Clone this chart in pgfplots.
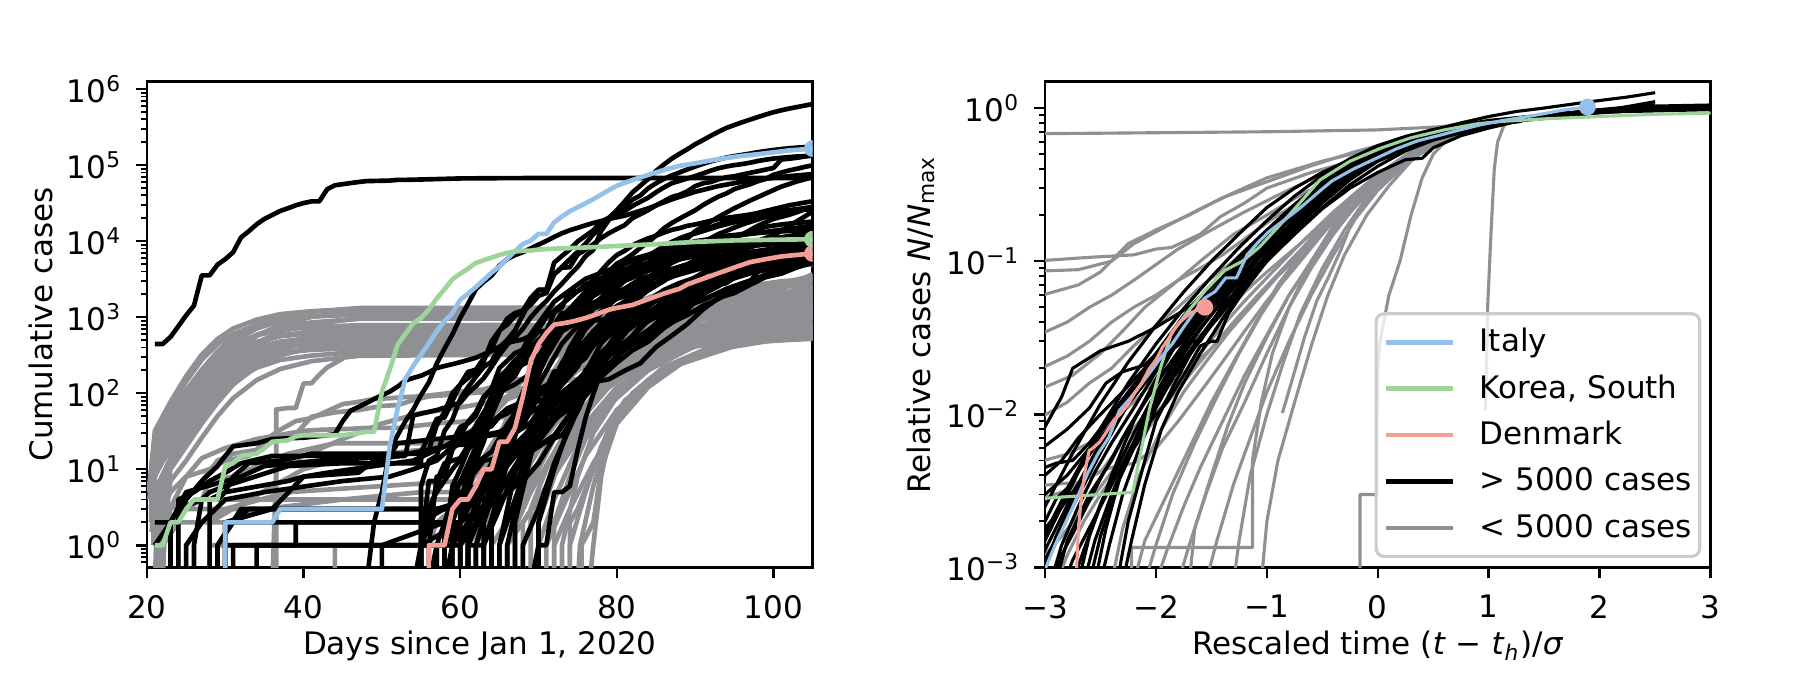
\documentclass[border=0pt]{standalone}
\usepackage{fontspec}
\setmainfont{DejaVu Sans}
\usepackage{pgfplots}
\pgfplotsset{compat=1.18}
\definecolor{lgray}{HTML}{8F9094}
\definecolor{itblue}{HTML}{94C1EA}
\definecolor{krgreen}{HTML}{9CD49A}
\definecolor{dkred}{HTML}{F59E98}
\pgfplotsset{
 gl/.style={lgray, line width=1.16pt, line join=round, forget plot},
 bl/.style={black, line width=1.16pt, line join=round, forget plot},
 gr/.style={lgray, line width=0.78pt, line join=round, forget plot},
 br/.style={black, line width=0.78pt, line join=round, forget plot},
}
\begin{document}
\fontsize{7.75pt}{9.3pt}\selectfont
\begin{tikzpicture}
\useasboundingbox (0,0) rectangle (450.25pt,172pt);
%================ LEFT ================
\begin{axis}[ymode=log,
 scale only axis, width=166.4pt, height=121.5pt, anchor=south west,
 tick align=outside, xtick pos=bottom, ytick pos=left,
 major tick length=2.72pt, minor tick length=1.55pt,
 tick style={black}, major tick style={line width=0.62pt}, minor tick style={line width=0.47pt},
 axis line style={line width=0.62pt},
 xticklabel style={inner sep=0pt, anchor=north, yshift=-4pt},
 yticklabel style={inner sep=0pt, anchor=east, xshift=-3.3pt},
 clip marker paths=true,
 at={(36.75pt,30.125pt)},
 xmin=20, xmax=105, ymin=0.51, ymax=1.26e6,
 xtick={20,40,60,80,100}, xticklabels={20,40,60,80,100},
 ytick={1,10,100,1000,10000,100000,1000000},
 yticklabels={10\textsuperscript{0},10\textsuperscript{1},10\textsuperscript{2},10\textsuperscript{3},10\textsuperscript{4},10\textsuperscript{5},10\textsuperscript{6}},
 minor ytick={0.6,0.7,0.8,0.9,2,3,4,5,6,7,8,9,20,30,40,50,60,70,80,90,200,300,400,500,600,700,800,900,2000,3000,4000,5000,6000,7000,8000,9000,20000,30000,40000,50000,60000,70000,80000,90000,200000,300000,400000,500000,600000,700000,800000,900000},
 xlabel={Days since Jan 1, 2020}, ylabel={Cumulative cases},
 xlabel style={at={(axis description cs:0.5,-0.1796)}, anchor=base},
 ylabel style={at={(axis description cs:-0.1427,0.5)}, anchor=base},
]
% gray band (provinces)
\addplot[gl] coordinates {(20.3,6) (21,27) (23,54) (25,109) (27,204) (29,354) (31,544) (34,816) (37,1034) (41,1183) (47,1319) (105,1360)};
\addplot[gl] coordinates {(20.5,9) (21,32) (23,77) (25,168) (27,323) (29,516) (31,710) (34,929) (37,1097) (41,1200) (47,1264) (105,1290)};
\addplot[gl] coordinates {(20.6,1.5) (21,10) (23,25) (25,50) (27,101) (29,189) (31,328) (34,567) (37,794) (41,1008) (47,1184) (105,1260)};
\addplot[gl] coordinates {(20.2,5) (21,24) (23,47) (25,94) (27,177) (29,307) (31,472) (34,708) (37,897) (41,1027) (47,1145) (105,1180)};
\addplot[gl] coordinates {(20.4,7) (21,28) (23,66) (25,143) (27,275) (29,440) (31,605) (34,792) (37,935) (41,1023) (47,1078) (105,1100)};
\addplot[gl] coordinates {(20.8,1) (21,8) (23,20) (25,41) (27,82) (29,153) (31,265) (34,459) (37,643) (41,816) (47,959) (105,1020)};
\addplot[gl] coordinates {(20.3,4) (21,20) (23,39) (25,78) (27,147) (29,255) (31,392) (34,588) (37,745) (41,853) (47,951) (105,980)};
\addplot[gl] coordinates {(20.5,5) (21,20) (23,48) (25,104) (27,200) (29,320) (31,440) (34,576) (37,680) (41,744) (47,784) (105,800)};
\addplot[gl] coordinates {(20.6,3) (21,15) (23,30) (25,60) (27,113) (29,195) (31,300) (34,450) (37,570) (41,653) (47,728) (105,750)};
\addplot[gl] coordinates {(21,0.3) (21.3,3) (23,14) (25,28) (27,56) (29,105) (31,182) (34,315) (37,441) (41,560) (47,658) (105,700)};
\addplot[gl] coordinates {(20.4,4) (21,17) (23,40) (25,86) (27,165) (29,264) (31,363) (34,475) (37,561) (41,614) (47,647) (105,660)};
\addplot[gl] coordinates {(20.6,2.5) (21,12) (23,25) (25,50) (27,93) (29,161) (31,248) (34,372) (37,471) (41,539) (47,601) (105,620)};
\addplot[gl] coordinates {(21.2,0.3) (21.5,2) (23,12) (25,24) (27,47) (29,89) (31,153) (34,266) (37,372) (41,472) (47,555) (105,590)};
\addplot[gl] coordinates {(20.5,3) (21,14) (23,34) (25,73) (27,140) (29,224) (31,308) (34,403) (37,476) (41,521) (47,549) (105,560)};
\addplot[gl] coordinates {(20.7,2) (21,11) (23,21) (25,42) (27,80) (29,138) (31,212) (34,318) (37,403) (41,461) (47,514) (105,530)};
\addplot[gl] coordinates {(21.5,0.3) (22,2) (23,10) (25,20) (27,40) (29,75) (31,130) (34,225) (37,315) (41,400) (47,470) (75,500) (90,520) (105,540)};
\addplot[gl] coordinates {(20.5,2.5) (21,12) (23,28) (25,61) (27,118) (29,188) (31,259) (34,338) (37,400) (41,437) (47,461) (75,470) (88,500) (105,560)};
\addplot[gl] coordinates {(20.8,1.5) (21,9) (23,18) (25,35) (27,66) (29,114) (31,176) (34,264) (37,334) (41,383) (47,427) (75,440) (88,480) (98,540) (105,580)};
\addplot[gl] coordinates {(20.5,2) (21,10) (23,24) (25,52) (27,100) (29,160) (31,220) (34,288) (37,340) (41,372) (47,392) (76,400) (86,450) (96,560) (105,620)};
\addplot[gl] coordinates {(21.2,1) (21.6,7) (23,14) (25,29) (27,54) (29,94) (31,144) (34,216) (37,274) (41,313) (47,349) (76,360) (86,420) (96,520) (105,580)};
\addplot[gl] coordinates {(22,0.3) (22.3,2) (23,7) (25,13) (27,26) (29,50) (31,86) (34,149) (37,208) (41,264) (47,310) (77,330) (88,400) (98,480) (105,520)};
% other gray
\addplot[gl] coordinates {(22,0.3) (22,1) (23,2) (25,3) (27,4) (50,4) (60,4) (63,8) (66,30) (70,100) (75,300) (82,700) (92,1300) (105,1800)};
\addplot[gl] coordinates {(23,0.3) (23,2) (25,3) (45,3) (58,3) (62,6) (65,20) (69,60) (74,200) (80,500) (90,1000) (105,1600)};
\addplot[gl] coordinates {(22,0.3) (22,2) (24,5) (25,8) (28,10) (30,13) (33,15) (35,21) (37,25) (39,29) (41,49) (44,56) (47,60) (50,68) (52,70) (54,81) (56,91) (58,94) (60,100) (62,101) (64,105) (66,108) (68,115) (70,126) (72,137) (74,148) (76,162) (78,208) (80,273) (82,356) (84,410) (86,518) (88,641) (90,715) (92,802) (94,862) (96,915) (98,960) (100,989) (102,1004) (105,1017)};
\addplot[gl] coordinates {(21,0.3) (22,1) (23,3) (25,4) (27,7) (29,13) (31,16) (34,18) (35,24) (37,33) (39,43) (41,47) (43,58) (45,72) (47,77) (49,84) (51,86) (53,89) (55,91) (57,96) (59,102) (61,108) (63,112) (65,130) (67,150) (69,160) (71,178) (73,212) (75,243) (77,313) (79,385) (81,455) (83,558) (85,683) (87,802) (89,879) (91,1000) (93,1114) (95,1309) (97,1481) (99,1910) (101,2299) (103,2918) (105,3699)};
\addplot[gl] coordinates {(21,2) (22,3) (23,5) (25,8) (27,14) (30,19) (34,25) (40,32) (42,33) (46,34) (48,35) (52,35) (58,41) (60,42) (64,47) (67,50) (69,53) (71,70) (72,75) (73,82) (74,114) (75,147) (76,177) (77,212) (78,272) (79,322) (80,411) (81,599) (82,721) (83,827) (84,934) (85,1045) (86,1136) (87,1245) (88,1388) (89,1524) (90,1651) (91,1771) (93,1978) (95,2169) (97,2258) (99,2423) (101,2518) (103,2579) (105,2643)};
\addplot[gl] coordinates {(24,0.3) (24,3) (27,4) (28,7) (31,8) (35,12) (38,16) (44,22) (58,22) (60,25) (62,36) (64,50) (66,83) (68,99) (70,149) (72,197) (74,428) (76,673) (78,900) (80,1183) (82,1518) (84,1796) (86,2161) (88,2626) (90,2908) (92,3333) (94,3662) (96,3963) (98,4228) (100,4530) (102,4683) (105,4987)};
\addplot[gl] coordinates {(36.5,0.3) (36.5,61) (38,64) (39,64) (40,135) (41,135) (42,175) (43,218) (45,285) (46,355) (47,454) (48,542) (49,621) (50,634) (52,691) (55,705) (70,706) (105,712)};
\addplot[gl] coordinates {(28,0.3) (28,1) (56,1) (57,2) (59,3) (61,6) (63,12) (65,15) (67,30) (69,40) (71,59) (73,155) (75,244) (77,319) (79,450) (81,626) (83,880) (85,1041) (87,1240) (89,1418) (91,1615) (93,1927) (95,2176) (97,2487) (99,2769) (101,2974) (103,3064) (105,3161)};
\addplot[gl] coordinates {(44,0.3) (44,1) (58,1) (59,2) (61,2) (62,3) (64,15) (66,48) (68,55) (70,67) (72,80) (74,110) (76,196) (78,256) (80,294) (82,366) (84,456) (86,536) (88,609) (90,710) (92,865) (94,985) (96,1173) (98,1450) (100,1699) (102,1939) (105,2350)};
\addplot[gl] coordinates {(25,0.3) (25,1) (27,2) (30,3) (38,5) (50,6) (60,7) (63,10) (66,25) (70,70) (75,200) (80,400) (90,900) (105,1500)};
\addplot[gl] coordinates {(28,0.3) (28,2) (33,4) (40,10) (45,14) (55,18) (60,25) (64,50) (68,150) (72,300) (80,700) (92,1500) (105,2200)};
\addplot[gl] coordinates {(36,0.3) (36.5,10) (40,15) (45,25) (50,40) (55,55) (60,65) (65,80) (70,150) (75,300) (85,800) (105,1800)};
\addplot[gl] coordinates {(22,0.3) (22,1) (24,2) (30,2) (35,3) (45,4) (55,5) (60,5) (62,10) (65,30) (68,80) (72,200) (80,500) (105,1100)};
% gray lower-right bundle
\addplot[gl] coordinates {(76.5,0.3) (77,1) (78,8) (79,25) (81,70) (84,150) (88,260) (93,380) (99,480) (105,540)};
\addplot[gl] coordinates {(75,0.3) (75.3,1) (77,6) (79,30) (82,100) (86,220) (92,400) (99,560) (105,650)};
\addplot[gl] coordinates {(73,0.3) (73,1) (75,8) (77,30) (80,90) (85,250) (92,500) (105,900)};
\addplot[gl] coordinates {(72,0.3) (72,2) (74,8) (76,25) (79,70) (84,200) (90,420) (97,700) (105,1000)};
\addplot[gl] coordinates {(70,0.3) (70,1) (72,4) (75,20) (78,60) (83,200) (90,500) (105,1200)};
\addplot[gl] coordinates {(69,0.3) (69,3) (71,10) (74,40) (78,120) (84,350) (92,800) (105,1700)};
\addplot[gl] coordinates {(68,0.3) (68,1) (71,6) (75,30) (80,120) (88,450) (97,900) (105,1300)};
\addplot[gl] coordinates {(67,0.3) (67,2) (70,10) (73,40) (77,130) (83,400) (92,1100) (105,2000)};
\addplot[gl] coordinates {(66,0.3) (66,1) (69,5) (73,25) (78,100) (85,350) (95,900) (105,1400)};
\addplot[gl] coordinates {(65,0.3) (65,1) (68,8) (72,40) (77,200) (84,700) (95,1800) (105,3000)};
\addplot[gl] coordinates {(64,0.3) (64,1) (67,3) (71,20) (76,90) (83,400) (94,1300) (105,2400)};
\addplot[gl] coordinates {(63,0.3) (63,2) (66,6) (70,30) (75,150) (82,600) (93,1800) (105,3500)};
\addplot[gl] coordinates {(62,0.3) (62,1) (65,4) (69,15) (74,70) (81,300) (92,1200) (105,2600)};
\addplot[gl] coordinates {(61,0.3) (61,1) (64,3) (68,12) (73,60) (80,350) (92,1500) (105,3200)};
\addplot[gl] coordinates {(60,0.3) (60,1) (63,3) (67,10) (72,50) (79,250) (90,1000) (105,2000)};
\addplot[gl] coordinates {(58,0.3) (58,1) (62,2) (66,8) (70,30) (76,150) (86,700) (105,2500)};
\addplot[gl] coordinates {(71,0.3) (71,1) (73,3) (76,15) (80,60) (86,220) (95,550) (105,800)};
\addplot[gl] coordinates {(74,0.3) (74,1) (76,5) (78,20) (81,80) (86,200) (94,420) (105,620)};
\addplot[gl] coordinates {(66,0.3) (66,1) (68,2) (71,6) (75,40) (80,160) (90,600) (105,1500)};
\addplot[gl] coordinates {(57,0.3) (57,1) (60,1) (63,2) (67,6) (71,30) (77,130) (85,450) (105,1700)};
\addplot[gl] coordinates {(68,0.3) (68,2) (70,4) (73,12) (76,35) (79,90) (83,220) (89,450) (97,750) (105,950)};
\addplot[gl] coordinates {(70,0.3) (70,2) (72,8) (74,25) (77,80) (81,220) (87,500) (95,900) (105,1200)};
\addplot[gl] coordinates {(72,0.3) (72,1) (74,3) (77,12) (80,40) (84,120) (89,280) (96,520) (105,720)};
\addplot[gl] coordinates {(64,0.3) (64,2) (66,5) (69,20) (73,80) (78,300) (85,800) (95,1700) (105,2300)};
\addplot[gl] coordinates {(74,0.3) (74,2) (75,3) (77,10) (79,35) (82,90) (87,230) (94,480) (105,760)};
\addplot[gl] coordinates {(75.5,0.3) (75.5,1) (77,2) (78,10) (80,40) (83,110) (88,240) (96,450) (105,600)};
% black lines
\addplot[bl] coordinates {(21,444) (22,444) (23,549) (24,761) (25,1058) (26,1423) (27,3554) (28,3554) (29,4903) (30,5806) (31,7153) (32,11177) (33,13522) (34,16678) (35,19665) (36,22112) (37,24953) (38,27100) (39,29631) (40,31728) (41,33366) (42,33366) (43,48206) (44,54406) (45,56249) (46,58182) (47,59989) (48,61682) (49,62031) (51,62662) (52,64084) (53,64084) (55,64786) (57,65596) (60,66907) (65,67466) (70,67773) (75,67798) (105,67803)};
\addplot[bl] coordinates {(21,1) (23,2) (25,5) (30,7) (32,8) (35,11) (42,13) (53,15) (54,51) (57,60) (60,75) (61,100) (62,124) (63,158) (64,221) (65,319) (66,435) (67,541) (68,704) (69,994) (70,1301) (71,1630) (72,2183) (73,2770) (74,3613) (75,4596) (76,6344) (77,7678) (78,13700) (79,19100) (80,25500) (81,33200) (82,43800) (83,53700) (84,65700) (85,83800) (86,101700) (87,121500) (88,140900) (89,161800) (90,188200) (91,213600) (92,243500) (93,275600) (94,308900) (95,337000) (96,366600) (97,397000) (98,429000) (99,462800) (100,496500) (101,526400) (102,555300) (103,580600) (104,607700) (105,636350)};
\addplot[bl] coordinates {(31,0.3) (31,1) (39,1) (39,2) (55,2) (55,6) (56,13) (57,15) (58,32) (59,45) (60,84) (61,120) (62,165) (63,222) (64,259) (65,400) (66,500) (67,673) (68,1073) (69,1695) (70,2277) (71,2277) (72,5232) (73,6391) (74,7798) (75,9942) (76,11748) (77,13910) (78,17963) (79,20410) (80,25374) (81,28768) (82,35136) (83,39885) (84,49515) (85,57786) (86,65719) (87,73235) (88,80110) (89,87956) (90,95923) (91,104118) (92,112065) (93,119199) (94,126168) (95,131646) (96,136675) (97,141942) (98,148220) (99,153222) (100,158273) (101,163027) (102,166831) (103,170099) (104,172541) (105,177644)};
\addplot[bl] coordinates {(26,0.3) (26,1) (27,4) (29,4) (30,5) (31,8) (33,12) (37,13) (41,16) (55,16) (55,17) (56,27) (57,46) (58,48) (59,79) (60,130) (61,159) (62,196) (63,262) (64,482) (65,670) (66,799) (67,1040) (68,1176) (69,1457) (70,1908) (71,2078) (72,3675) (73,4585) (74,5795) (75,7272) (76,9257) (77,12327) (78,15320) (79,19848) (80,22213) (81,24873) (82,29056) (83,32986) (84,37323) (85,43938) (86,50871) (87,57695) (88,62095) (89,66885) (90,71808) (91,77872) (92,84794) (93,91159) (94,96092) (95,100123) (96,103374) (97,107663) (98,113296) (99,118181) (100,122171) (101,124908) (102,127854) (103,130072) (104,131359) (105,134753)};
\addplot[bl] coordinates {(23,0.3) (23,2) (24,3) (27,4) (28,5) (30,6) (38,11) (45,12) (55,12) (55,14) (56,18) (57,38) (58,57) (59,100) (60,130) (61,191) (62,204) (63,288) (64,380) (65,656) (66,957) (67,1136) (68,1219) (69,1794) (70,2293) (71,2293) (72,3681) (73,4496) (74,4532) (75,6683) (76,7715) (77,9124) (78,10970) (79,12758) (80,14463) (81,16243) (82,20123) (83,22622) (84,25600) (85,29551) (86,33402) (87,38105) (88,40708) (89,45170) (90,52827) (91,57749) (92,59929) (93,65202) (94,69500) (95,71412) (96,75343) (97,79163) (98,83057) (99,87366) (100,91738) (101,118783) (102,121712) (103,124869) (104,130253) (105,133470)};
\addplot[bl] coordinates {(30,0.3) (30,2) (36,3) (40,8) (43,9) (54,13) (58,20) (59,23) (60,36) (61,40) (62,51) (63,85) (64,115) (65,163) (66,206) (67,273) (68,321) (69,382) (70,456) (71,456) (72,798) (73,1140) (74,1140) (75,1543) (76,1950) (77,2626) (78,2689) (79,3983) (80,5067) (81,5745) (82,6726) (83,8164) (84,9640) (85,11812) (86,14745) (87,17312) (88,19780) (89,22453) (90,25481) (91,29865) (92,34173) (93,38689) (94,42477) (95,48436) (96,52279) (97,55949) (98,61474) (99,65872) (100,74605) (101,79874) (102,85206) (103,89570) (104,94845) (105,99483)};
\addplot[bl] coordinates {(48,0.3) (49,2) (50,5) (51,18) (52,28) (53,43) (54,61) (55,95) (56,139) (57,245) (58,388) (59,593) (60,978) (61,1501) (62,2336) (63,2922) (64,3513) (65,4747) (66,5823) (67,6566) (68,7161) (69,8042) (70,9000) (71,10075) (72,11364) (73,12729) (74,13938) (75,14991) (76,16169) (77,17361) (78,18407) (79,19644) (81,21638) (84,27017) (87,35408) (90,44605) (93,53183) (96,60500) (99,66220) (102,71686) (105,76389)};
\addplot[bl] coordinates {(69,0.3) (70,1) (71,1) (72,5) (73,5) (74,6) (75,18) (76,47) (77,98) (78,192) (79,359) (80,670) (81,1236) (82,1529) (83,1872) (84,2433) (85,3629) (86,5698) (87,7402) (88,9217) (89,10827) (90,13531) (91,15679) (93,20921) (95,27069) (97,34109) (99,42282) (101,52167) (103,61049) (105,69392)};
\addplot[bl] coordinates {(34,0.3) (34,1) (59,1) (60,2) (61,8) (62,13) (63,23) (64,50) (65,109) (66,169) (67,200) (68,239) (69,267) (70,314) (71,314) (72,559) (73,689) (74,886) (75,1058) (76,1243) (77,1486) (78,1795) (79,2257) (80,2815) (81,3401) (82,3743) (83,4269) (84,4937) (85,6235) (86,7284) (87,9134) (88,10836) (89,11899) (90,12775) (93,16770) (96,20814) (99,24983) (102,29647) (105,33573)};
\addplot[bl] coordinates {(56,0.3) (57,1) (58,1) (59,6) (60,10) (61,18) (62,24) (63,38) (64,82) (65,128) (66,188) (67,265) (68,321) (69,382) (70,503) (71,503) (72,804) (73,959) (74,1135) (75,1413) (76,1705) (77,2051) (78,2460) (79,2994) (80,3631) (81,4204) (82,4749) (83,5560) (84,6412) (85,7431) (86,8603) (87,9762) (88,10866) (89,11750) (90,12595) (93,15723) (96,18803) (99,21903) (102,25587) (105,28153)};
\addplot[bl] coordinates {(54,0.3) (55,1) (56,1) (57,8) (58,8) (59,18) (60,27) (61,42) (62,56) (63,90) (64,114) (65,214) (66,268) (67,337) (68,374) (69,491) (70,652) (71,652) (72,1139) (73,1359) (74,2200) (75,2200) (76,2700) (77,3028) (78,4075) (79,5294) (80,6575) (81,7474) (82,8795) (83,9877) (84,10897) (85,11811) (86,12928) (87,14076) (88,14829) (89,15922) (90,16605) (93,19606) (96,21657) (99,24051) (102,25449) (105,26336)};
\addplot[bl] coordinates {(25,0.3) (25,1) (27,2) (30,4) (35,5) (45,7) (51,8) (54,10) (57,13) (59,20) (61,27) (62,30) (64,37) (65,49) (66,54) (67,64) (68,77) (69,79) (70,108) (71,117) (72,193) (73,198) (74,252) (75,415) (76,478) (77,657) (78,800) (79,943) (80,1277) (81,1469) (82,2088) (83,2790) (84,3251) (85,4042) (86,4682) (87,5576) (88,6280) (89,7398) (90,8527) (93,12437) (96,16563) (99,20765) (102,24383) (105,28209)};
\addplot[bl] coordinates {(21,2) (24,2) (25,4) (27,7) (29,11) (30,15) (31,20) (34,22) (36,25) (40,26) (43,28) (44,29) (45,43) (46,59) (47,66) (48,74) (49,84) (50,94) (51,105) (52,122) (53,147) (54,159) (55,170) (56,189) (57,214) (58,228) (59,241) (60,256) (62,293) (64,360) (66,461) (68,511) (70,639) (72,701) (74,839) (76,878) (78,924) (80,1007) (82,1086) (84,1193) (86,1387) (88,1693) (90,1866) (92,2495) (94,3139) (96,3654) (98,4257) (100,5530) (102,6748) (104,7645) (105,8100)};
\addplot[bl] coordinates {(55,0.3) (55,2) (57,5) (59,10) (61,18) (63,41) (65,104) (67,131) (69,182) (71,302) (73,655) (75,860) (77,1332) (79,2013) (81,3244) (83,4474) (85,5588) (87,7029) (89,8788) (91,10180) (94,11781) (97,12640) (100,13244) (105,14226)};
\addplot[bl] coordinates {(55,0.3) (55,1) (60,2) (64,4) (66,13) (68,25) (70,52) (72,98) (74,200) (76,291) (78,621) (80,1021) (82,1593) (84,2247) (86,2985) (88,4256) (90,5717) (92,7910) (94,10278) (96,12240) (98,15927) (100,19638) (102,22192) (105,28320)};
\addplot[bl] coordinates {(61,0.3) (61,2) (63,5) (65,13) (67,30) (69,41) (71,78) (73,169) (75,331) (77,642) (79,1020) (81,1600) (83,2362) (85,3544) (87,5170) (89,6408) (91,8251) (93,10524) (95,11730) (97,13141) (99,15472) (101,16585) (103,17448) (105,18091)};
\addplot[bl] coordinates {(30,0.3) (30,1) (55,1) (56,7) (57,7) (58,12) (60,14) (62,30) (64,94) (66,161) (68,248) (70,500) (72,814) (74,1022) (76,1190) (78,1423) (80,1746) (82,2046) (84,2526) (86,3069) (88,3700) (90,4435) (92,5568) (94,6830) (96,7693) (98,8941) (100,9685) (102,10483) (105,11445)};
\addplot[bl] coordinates {(50,0.3) (50,1) (58,2) (60,7) (62,12) (64,17) (66,39) (68,75) (70,100) (72,143) (74,200) (76,324) (78,529) (80,883) (82,1442) (84,2369) (86,3035) (88,4247) (90,5358) (92,6857) (94,7851) (96,8904) (98,9755) (100,10408) (102,11145) (105,12046)};
\addplot[bl] coordinates {(55,0.3) (55,1) (57,6) (59,19) (61,25) (63,56) (65,108) (67,169) (69,400) (71,629) (73,996) (75,1256) (77,1550) (79,1914) (81,2383) (83,2866) (85,3369) (87,3845) (89,4284) (91,4641) (93,5208) (95,5687) (97,6086) (99,6228) (102,6525) (105,6740)};
\addplot[bl] coordinates {(30,0.3) (30,2) (60,2) (61,3) (64,10) (66,17) (68,20) (70,28) (72,45) (74,63) (76,114) (78,199) (80,306) (82,438) (84,658) (86,1036) (88,1534) (90,2337) (92,3548) (94,5389) (96,7497) (98,10131) (100,11917) (102,15770) (105,24490)};
\addplot[bl] coordinates {(58,0.3) (59,1) (61,2) (63,6) (65,18) (67,21) (69,34) (71,70) (73,129) (75,223) (77,557) (79,683) (81,906) (83,1329) (85,1819) (87,2415) (89,2910) (91,3849) (93,4604) (95,5111) (97,6074) (99,7054) (101,8928) (103,10647) (105,12547)};
\addplot[bl] coordinates {(29,0.3) (29,1) (32,3) (60,3) (61,5) (63,28) (65,31) (67,39) (69,56) (71,73) (73,82) (75,114) (77,151) (79,223) (81,396) (83,536) (85,694) (87,887) (89,1251) (91,1998) (93,2567) (95,3588) (97,4778) (99,5916) (101,7600) (103,9152) (105,12322)};
\addplot[bl] coordinates {(65,0.3) (65,1) (67,9) (69,22) (71,38) (73,71) (75,117) (77,234) (79,318) (81,395) (83,480) (85,635) (87,852) (89,1065) (91,1414) (93,1746) (95,2281) (97,2954) (99,5256) (101,6848) (103,9784) (105,11475)};
\addplot[bl] coordinates {(59,0.3) (59,6) (61,7) (63,13) (65,14) (67,15) (69,17) (71,23) (73,28) (75,58) (77,168) (79,426) (81,981) (83,1211) (85,1627) (87,1823) (89,2240) (91,3163) (93,3368) (95,3747) (97,4450) (99,4965) (101,7161) (103,7529) (105,8225)};
\addplot[bl] coordinates {(63,0.3) (63,1) (65,5) (67,11) (69,22) (71,49) (73,103) (75,150) (77,238) (79,425) (81,634) (83,901) (85,1221) (87,1638) (89,2055) (91,2554) (93,3383) (95,4102) (97,4848) (99,5575) (101,6356) (103,6934) (105,7582)};
\addplot[bl] coordinates {(61,0.3) (61,1) (64,5) (66,11) (68,20) (70,45) (72,86) (74,103) (76,171) (78,274) (80,392) (82,562) (84,900) (86,1104) (88,1299) (90,1563) (92,1885) (94,2370) (96,2795) (98,3287) (100,4033) (102,4462) (104,5369) (105,5862)};
\addplot[bl] coordinates {(55,0.3) (55,1) (57,3) (61,4) (63,6) (65,9) (67,15) (69,25) (71,49) (73,89) (75,139) (77,246) (79,308) (81,433) (83,762) (85,1029) (87,1452) (89,1952) (91,2460) (93,3183) (95,3864) (97,4417) (99,5202) (101,5990) (103,6300) (105,6879)};
\addplot[bl] coordinates {(60,0.3) (60,3) (62,5) (64,12) (66,32) (68,38) (70,91) (72,141) (74,253) (76,383) (78,694) (80,1047) (82,1236) (84,1654) (86,2279) (88,2817) (90,3308) (92,4190) (94,4587) (96,4822) (98,5312) (100,5732) (102,5991) (105,6301)};
\addplot[bl] coordinates {(24,0.3) (24,4) (26,5) (28,7) (30,9) (32,12) (36,15) (51,15) (52,22) (60,27) (62,33) (64,41) (66,63) (68,77) (70,112) (71,127) (72,156) (73,200) (74,250) (75,377) (76,453) (77,568) (78,681) (79,791) (80,1071) (81,1549) (82,1682) (83,2044) (84,2364) (85,2810) (86,3143) (87,3640) (88,3984) (89,4361) (90,4559) (92,5136) (94,5687) (96,5908) (98,6052) (100,6203) (102,6313) (105,6447)};
\addplot[bl] coordinates {(29,0.3) (29,1) (31,2) (33,3) (60,3) (65,5) (67,10) (69,33) (71,52) (73,64) (75,140) (77,202) (79,230) (81,380) (83,552) (85,707) (87,1075) (89,1546) (91,2311) (93,3018) (95,3246) (97,3764) (99,4195) (101,4428) (103,4932) (105,5453)};
\addplot[bl] coordinates {(55,0.3) (55,2) (60,4) (64,6) (66,16) (68,19) (70,20) (72,28) (74,53) (76,187) (78,454) (80,730) (82,887) (84,1057) (86,1408) (88,1597) (90,2039) (92,2450) (94,2818) (96,3864) (98,4263) (100,4788) (102,5374) (104,5837) (105,6383)};
\addplot[bl] coordinates {(58,0.3) (58,2) (60,5) (64,7) (68,7) (70,12) (72,26) (74,53) (76,93) (78,164) (80,251) (82,367) (84,475) (86,717) (88,993) (90,1215) (92,1510) (94,2143) (96,2785) (98,3181) (100,3844) (102,4661) (104,5399) (105,5847)};
\addplot[bl] coordinates {(62,0.3) (62,1) (64,4) (66,7) (68,13) (70,23) (72,43) (74,75) (76,201) (78,342) (80,537) (82,746) (84,1142) (86,1610) (88,2139) (90,2738) (92,3404) (94,4471) (96,5116) (98,5546) (100,6501) (102,7213) (104,7917) (105,8273)};
\addplot[bl] coordinates {(61,0.3) (61,2) (65,4) (67,6) (69,19) (71,34) (73,69) (75,117) (77,172) (79,309) (81,450) (83,579) (85,790) (87,1046) (89,1414) (91,1677) (93,2092) (95,2491) (97,2956) (99,3512) (101,4241) (103,4557) (105,5136)};
\addplot[bl] coordinates {(28,0.3) (28,4) (30,5) (38,7) (40,8) (47,9) (49,13) (57,19) (59,21) (61,21) (63,27) (65,29) (67,45) (69,74) (71,85) (73,98) (75,113) (77,140) (79,153) (81,198) (83,248) (85,405) (87,570) (89,814) (91,1264) (93,1799) (95,2076) (97,2659) (99,3360) (101,3736) (103,4521) (105,5365)};
\addplot[bl] coordinates {(57,0.3) (57,1) (59,4) (62,20) (65,90) (68,350) (71,1000) (75,2200) (80,4000) (88,6500) (96,8500) (105,10000)};
\addplot[bl] coordinates {(59,0.3) (59,2) (61,8) (63,30) (66,150) (69,600) (72,1600) (76,3200) (82,5500) (90,8000) (105,12000)};
\addplot[bl] coordinates {(62,0.3) (62,1) (64,5) (67,40) (70,250) (73,900) (77,2400) (82,4600) (90,7500) (105,11000)};
\addplot[bl] coordinates {(64,0.3) (64,2) (66,12) (68,60) (71,300) (74,1000) (78,2500) (84,5000) (93,8000) (105,10500)};
\addplot[bl] coordinates {(66,0.3) (66,1) (68,8) (70,40) (73,200) (76,700) (80,1800) (86,3800) (95,6500) (105,8500)};
\addplot[bl] coordinates {(60,0.3) (60,1) (62,3) (65,15) (68,80) (71,400) (74,1200) (78,2800) (84,5200) (94,8800) (105,13000)};
\addplot[bl] coordinates {(67,0.3) (67,2) (69,15) (71,80) (74,400) (77,1300) (81,3000) (87,5500) (96,8500) (105,10500)};
\addplot[bl] coordinates {(58,0.3) (58,1) (61,3) (64,10) (67,45) (70,200) (73,700) (77,1900) (83,4200) (92,7600) (105,11500)};
\addplot[bl] coordinates {(63,0.3) (63,3) (65,15) (67,60) (70,300) (73,1000) (77,2800) (82,5800) (90,10000) (105,16000)};
\addplot[bl] coordinates {(65,0.3) (65,1) (67,4) (70,30) (73,150) (76,500) (80,1400) (86,3200) (95,5800) (105,7500)};
\addplot[bl] coordinates {(68,0.3) (68,1) (70,3) (72,12) (75,60) (78,250) (82,800) (88,2200) (96,4500) (105,6500)};
\addplot[bl] coordinates {(70,0.3) (70,2) (72,10) (74,40) (77,200) (80,600) (85,1700) (93,3800) (105,6000)};
\addplot[bl] coordinates {(56,0.3) (56,1) (60,1) (62,2) (64,6) (67,30) (70,130) (73,450) (77,1300) (83,3200) (92,6200) (105,9000)};
\addplot[bl] coordinates {(61,0.3) (61,1) (63,1) (65,3) (67,10) (70,60) (73,250) (76,800) (81,2200) (88,4500) (97,7200) (105,9500)};
% colored
\addplot[itblue, line width=1.16pt, line join=round, forget plot] coordinates {(30,0.3) (30,2) (36,2) (37,3) (50,3) (51,20) (52,62) (53,155) (54,229) (55,322) (56,453) (57,655) (58,888) (59,1128) (60,1694) (61,2036) (62,2502) (63,3089) (64,3858) (65,4636) (66,5883) (67,7375) (68,9172) (69,10149) (70,12462) (71,12462) (72,17660) (73,21157) (74,24747) (75,27980) (76,31506) (77,35713) (78,41035) (79,47021) (80,53578) (82,63927) (84,74386) (86,86498) (88,97689) (90,105792) (92,115242) (94,124632) (96,132547) (98,139422) (100,147577) (102,156363) (105,165155)};
\addplot[krgreen, line width=1.16pt, line join=round, forget plot] coordinates {(21,1) (22,1) (23,2) (24,2) (25,3) (26,4) (29,4) (30,11) (31,12) (32,15) (34,16) (35,19) (36,23) (38,24) (39,27) (40,28) (45,28) (46,29) (48,31) (49,31) (50,104) (51,204) (52,433) (53,602) (54,833) (55,977) (56,1261) (57,1766) (58,2337) (59,3150) (60,3736) (61,4335) (62,5186) (63,5621) (64,6088) (65,6593) (66,7041) (67,7313) (68,7478) (69,7513) (70,7755) (71,7869) (72,7979) (75,8162) (80,8652) (85,9137) (90,9786) (95,10237) (100,10450) (105,10613)};
\addplot[dkred, line width=1.16pt, line join=round, forget plot] coordinates {(56,0.3) (56,1) (58,1) (59,3) (60,4) (61,4) (62,6) (63,10) (64,10) (65,23) (66,23) (67,35) (68,90) (69,262) (70,442) (71,615) (72,801) (73,827) (74,864) (75,914) (76,977) (77,1057) (78,1151) (79,1255) (80,1326) (82,1450) (84,1724) (86,2046) (88,2366) (89,2700) (91,3200) (93,3800) (95,4500) (97,5300) (99,5800) (101,6300) (103,6600) (105,6900)};
\addplot[only marks, mark=*, mark size=1.9pt, color=itblue, forget plot] coordinates {(105,165155)};
\addplot[only marks, mark=*, mark size=1.9pt, color=krgreen, forget plot] coordinates {(105,10613)};
\addplot[only marks, mark=*, mark size=1.9pt, color=dkred, forget plot] coordinates {(105,6900)};
\end{axis}
%================ RIGHT ================
\begin{axis}[ymode=log,
 scale only axis, width=166.4pt, height=121.5pt, anchor=south west,
 tick align=outside, xtick pos=bottom, ytick pos=left,
 major tick length=2.72pt, minor tick length=1.55pt,
 tick style={black}, major tick style={line width=0.62pt}, minor tick style={line width=0.47pt},
 axis line style={line width=0.62pt},
 xticklabel style={inner sep=0pt, anchor=north, yshift=-4pt},
 yticklabel style={inner sep=0pt, anchor=east, xshift=-3.3pt},
 clip marker paths=true,
 at={(261.25pt,30.125pt)},
 xmin=-3, xmax=3, ymin=0.001, ymax=1.49,
 xtick={-3,-2,-1,0,1,2,3}, xticklabels={−3,−2,−1,0,1,2,3},
 ytick={0.001,0.01,0.1,1},
 yticklabels={10\textsuperscript{−3},10\textsuperscript{−2},10\textsuperscript{−1},10\textsuperscript{0}},
 minor ytick={0.002,0.003,0.004,0.005,0.006,0.007,0.008,0.009,0.02,0.03,0.04,0.05,0.06,0.07,0.08,0.09,0.2,0.3,0.4,0.5,0.6,0.7,0.8,0.9},
 xlabel={Rescaled time (\textit{t} − \textit{t}\textsubscript{\textit{h}})/\textit{σ}},
 ylabel={Relative cases \textit{N}/\textit{N}\textsubscript{max}},
 xlabel style={at={(axis description cs:0.5,-0.1796)}, anchor=base},
 ylabel style={at={(axis description cs:-0.1725,0.5)}, anchor=base},
 legend cell align=left,
 legend style={at={(axis description cs:0.4951,0.5253)}, anchor=north west, draw=black!20, line width=0.78pt, rounded corners=2pt, fill=white, fill opacity=0.8, draw opacity=1, text opacity=1, inner xsep=2pt, inner ysep=3.6pt, row sep=4.55pt, column sep=6pt, nodes={inner sep=0pt}},
 legend image code/.code={\draw[#1, line width=1.16pt] (0pt,0pt) -- (16.75pt,0pt);},
]
% gray
\addplot[gr] coordinates {(-3.1,0.68) (-2.5,0.685) (-2,0.69) (-1,0.7) (0,0.72) (0.5,0.75) (1,0.8) (1.5,0.85)};
\addplot[gr] coordinates {(-3.1,0.1) (-2.6,0.106) (-2.2,0.11) (-2,0.12) (-1.86,0.123) (-1.6,0.15) (-1.42,0.195) (-1.2,0.24) (-1,0.3) (-0.6,0.38) (-0.1,0.48) (0.3,0.6) (0.77,0.74) (1.1,0.82)};
\addplot[gr] coordinates {(-3.1,0.086) (-2.7,0.088) (-2.4,0.1) (-2.2,0.13) (-1.9,0.17) (-1.6,0.22) (-1.3,0.28) (-1,0.35) (-0.5,0.45) (0,0.55) (0.4,0.66) (0.8,0.76) (1.1,0.82)};
\addplot[gr] coordinates {(-3.1,0.058) (-2.7,0.07) (-2.5,0.085) (-2.25,0.13) (-2,0.16) (-1.7,0.2) (-1.4,0.26) (-1,0.33) (-0.6,0.42) (-0.2,0.52) (0.2,0.62) (0.6,0.73) (1,0.8) (1.5,0.88) (2,0.94) (2.5,0.98) (3.1,1.0)};
\addplot[gr] coordinates {(-3.1,0.032) (-2.8,0.04) (-2.6,0.05) (-2.4,0.06) (-2.2,0.075) (-2,0.095) (-1.8,0.12) (-1.5,0.16) (-1.2,0.21) (-0.9,0.27) (-0.5,0.37) (0,0.5) (0.4,0.63) (0.8,0.75)};
\addplot[gr] coordinates {(-3.1,0.019) (-2.8,0.024) (-2.6,0.03) (-2.4,0.04) (-2.2,0.05) (-2,0.06) (-1.8,0.075) (-1.6,0.09) (-1.4,0.11) (-1.2,0.14) (-0.9,0.2) (-0.6,0.27) (-0.3,0.36) (0,0.46) (0.4,0.6) (0.8,0.73)};
\addplot[gr] coordinates {(-3.1,0.014) (-2.75,0.018) (-2.5,0.025) (-2.3,0.035) (-2.1,0.05) (-1.85,0.07) (-1.6,0.1) (-1.3,0.15) (-1,0.2) (-0.7,0.27) (-0.4,0.35) (0,0.48) (0.5,0.65) (0.9,0.77)};
\addplot[gr] coordinates {(-3.1,0.009) (-2.8,0.012) (-2.6,0.016) (-2.4,0.02) (-2.2,0.028) (-2,0.038) (-1.8,0.05) (-1.6,0.068) (-1.3,0.1) (-1,0.15) (-0.7,0.22) (-0.4,0.31) (0,0.45) (0.5,0.63) (1,0.78)};
\addplot[gr] coordinates {(-3.1,0.0048) (-2.8,0.0055) (-2.6,0.0065) (-2.4,0.009) (-2.2,0.012) (-2,0.017) (-1.8,0.024) (-1.6,0.033) (-1.4,0.045) (-1.2,0.063) (-1,0.085) (-0.7,0.13) (-0.4,0.2) (-0.1,0.3) (0.2,0.42) (0.5,0.56) (0.8,0.7) (1.1,0.8)};
\addplot[gr] coordinates {(-3.1,0.0027) (-2.8,0.0032) (-2.6,0.004) (-2.4,0.0045) (-2.2,0.0048) (-2,0.006) (-1.8,0.009) (-1.6,0.014) (-1.4,0.022) (-1.2,0.035) (-1,0.055) (-0.75,0.09) (-0.5,0.15) (-0.25,0.24) (0,0.35) (0.3,0.5) (0.6,0.66) (0.9,0.78)};
\addplot[gr] coordinates {(-3.1,0.0034) (-2.7,0.0036) (-2.5,0.0042) (-2.3,0.0065) (-2.1,0.01) (-1.9,0.015) (-1.7,0.02) (-1.5,0.027) (-1.3,0.038) (-1.1,0.055) (-0.9,0.08) (-0.6,0.13) (-0.3,0.22) (0,0.34) (0.3,0.5) (0.6,0.67) (0.9,0.78)};
\addplot[gr] coordinates {(-2.25,0.0004) (-2.2,0.0008) (-2.1,0.0015) (-1.9,0.003) (-1.7,0.006) (-1.5,0.012) (-1.3,0.022) (-1.1,0.04) (-0.9,0.07) (-0.7,0.11) (-0.5,0.17) (-0.25,0.26) (0,0.37) (0.3,0.52) (0.6,0.68) (0.9,0.78)};
\addplot[gr] coordinates {(-2.05,0.0004) (-2.0,0.0008) (-1.9,0.0013) (-1.75,0.0025) (-1.6,0.0045) (-1.4,0.009) (-1.2,0.018) (-1,0.033) (-0.8,0.06) (-0.6,0.1) (-0.4,0.16) (-0.2,0.24) (0,0.33) (0.3,0.48) (0.6,0.64) (0.9,0.77) (1.1,0.82) (1.5,0.9) (2.2,0.97) (2.5,0.99)};
\addplot[gr] coordinates {(-1.85,0.0004) (-1.8,0.0008) (-1.7,0.0014) (-1.55,0.003) (-1.4,0.006) (-1.2,0.012) (-1,0.025) (-0.8,0.05) (-0.6,0.09) (-0.4,0.15) (-0.2,0.23) (0,0.32) (0.25,0.45) (0.5,0.6) (0.8,0.74) (1.1,0.81)};
\addplot[gr] coordinates {(-1.6,0.0004) (-1.55,0.0008) (-1.45,0.0015) (-1.3,0.0035) (-1.15,0.007) (-1,0.014) (-0.8,0.03) (-0.6,0.06) (-0.4,0.11) (-0.2,0.19) (0,0.29) (0.25,0.43) (0.5,0.6) (0.75,0.72) (1,0.8)};
\addplot[gr] coordinates {(-0.86,0.0102) (-0.76,0.018) (-0.66,0.032) (-0.55,0.055) (-0.44,0.08) (-0.33,0.12) (-0.22,0.19) (-0.1,0.25) (0,0.31) (0.22,0.42) (0.45,0.55) (0.66,0.65) (0.9,0.75) (1.1,0.8)};
\addplot[gr] coordinates {(-0.16,0.0005) (-0.16,0.003) (-0.01,0.003) (-0.01,0.007) (0.0,0.02) (0.02,0.03) (0.1,0.06) (0.2,0.1) (0.3,0.2) (0.4,0.35) (0.5,0.5) (0.65,0.65) (0.8,0.75) (1.0,0.8)};
\addplot[gr] coordinates {(0.97,0.0107) (0.98,0.02) (0.99,0.05) (1.02,0.15) (1.05,0.4) (1.08,0.6) (1.14,0.78) (1.3,0.85) (1.6,0.9) (2.0,0.95) (2.5,0.98) (3.1,1.0)};
\addplot[gr] coordinates {(-2.22,0.0005) (-2.22,0.00135) (-1.13,0.00135) (-1.13,0.005) (-1.05,0.012) (-0.95,0.025) (-0.8,0.05) (-0.6,0.1) (-0.4,0.17) (-0.2,0.26) (0,0.36) (0.3,0.52) (0.6,0.68) (0.9,0.78)};
\addplot[gr] coordinates {(-1.35,0.0004) (-1.3,0.0008) (-1.25,0.0015) (-1.15,0.004) (-1.0,0.01) (-0.85,0.022) (-0.7,0.045) (-0.5,0.09) (-0.3,0.16) (-0.1,0.26) (0.1,0.36) (0.35,0.5) (0.6,0.65) (0.85,0.76) (1.1,0.81)};
\addplot[gr] coordinates {(-1.1,0.0004) (-1.05,0.0008) (-1.0,0.002) (-0.9,0.005) (-0.75,0.012) (-0.6,0.028) (-0.45,0.06) (-0.3,0.11) (-0.1,0.2) (0.1,0.31) (0.3,0.45) (0.5,0.6) (0.75,0.72) (1.0,0.8)};
\addplot[gr] coordinates {(-2.15,0.0004) (-2.1,0.0008) (-2.0,0.0014) (-1.85,0.003) (-1.65,0.0065) (-1.45,0.013) (-1.25,0.025) (-1.05,0.045) (-0.85,0.075) (-0.6,0.13) (-0.35,0.21) (-0.1,0.31) (0.2,0.45) (0.5,0.61) (0.8,0.74) (1.05,0.8)};
\addplot[gr] coordinates {(-2.45,0.0004) (-2.4,0.0008) (-2.3,0.0018) (-2.15,0.004) (-1.95,0.008) (-1.75,0.014) (-1.55,0.022) (-1.35,0.034) (-1.1,0.055) (-0.85,0.09) (-0.6,0.14) (-0.3,0.23) (0,0.36) (0.35,0.53) (0.7,0.7) (1,0.79)};
\addplot[gr] coordinates {(-1.75,0.0004) (-1.7,0.0008) (-1.65,0.0018) (-1.5,0.004) (-1.35,0.0085) (-1.2,0.016) (-1.0,0.032) (-0.8,0.06) (-0.55,0.11) (-0.3,0.19) (-0.05,0.3) (0.2,0.43) (0.5,0.6) (0.8,0.74) (1.05,0.8)};
\addplot[gr] coordinates {(-3.1,0.001) (-2.85,0.0016) (-2.7,0.0022) (-2.55,0.003) (-2.4,0.0042) (-2.2,0.0065) (-2.0,0.01) (-1.8,0.016) (-1.6,0.025) (-1.4,0.038) (-1.2,0.055) (-0.95,0.085) (-0.7,0.13) (-0.4,0.21) (-0.1,0.32) (0.25,0.48) (0.6,0.65) (0.9,0.77)};
\addplot[gr] coordinates {(-2.95,0.0004) (-2.9,0.0008) (-2.8,0.0012) (-2.65,0.002) (-2.5,0.003) (-2.3,0.0048) (-2.1,0.0075) (-1.9,0.012) (-1.7,0.018) (-1.5,0.027) (-1.3,0.04) (-1.1,0.058) (-0.85,0.09) (-0.6,0.14) (-0.3,0.23) (0,0.35) (0.35,0.52) (0.7,0.69) (1,0.79)};
% black
\addplot[br] coordinates {(-3.1,0.0075) (-3,0.0083) (-2.85,0.013) (-2.75,0.02) (-2.5,0.026) (-2.25,0.03) (-2,0.037) (-1.83,0.044) (-1.67,0.052) (-1.5,0.07) (-1.25,0.1) (-1,0.15) (-0.5,0.3) (0,0.5) (0.5,0.68) (1,0.8) (1.5,0.87) (1.9,0.92)};
\addplot[br] coordinates {(-3.1,0.0055) (-3,0.0062) (-2.8,0.008) (-2.6,0.011) (-2.45,0.016) (-2.3,0.019) (-2.1,0.021) (-1.95,0.027) (-1.8,0.035) (-1.6,0.05) (-1.4,0.07) (-1.2,0.1) (-0.9,0.16) (-0.5,0.3) (0,0.5) (0.5,0.7) (1,0.8) (1.6,0.9)};
\addplot[br] coordinates {(-3.1,0.0018) (-3,0.0025) (-2.75,0.0056) (-2.5,0.0117) (-2.25,0.0219) (-2,0.038) (-1.75,0.063) (-1.5,0.1) (-1.25,0.151) (-1,0.224) (-0.75,0.3) (-0.5,0.38) (-0.25,0.46) (0,0.55) (0.5,0.7) (1,0.82) (1.5,0.9) (2,0.97) (2.5,1.03) (3.1,1.05)};
\addplot[br] coordinates {(-3.1,0.0012) (-3,0.00166) (-2.75,0.0038) (-2.5,0.0081) (-2.25,0.016) (-2,0.0288) (-1.75,0.049) (-1.5,0.079) (-1.25,0.123) (-1,0.184) (-0.75,0.266) (-0.5,0.363) (-0.25,0.468) (0,0.569) (0.25,0.653) (0.5,0.724) (1,0.83) (1.5,0.9) (2,0.97) (2.5,1.0) (3.1,1.0)};
\addplot[br] coordinates {(-3.1,0.0007) (-3,0.00112) (-2.75,0.0025) (-2.5,0.0056) (-2.25,0.0117) (-2,0.0219) (-1.75,0.038) (-1.5,0.063) (-1.25,0.1) (-1,0.151) (-0.75,0.224) (-0.5,0.316) (-0.25,0.417) (0,0.525) (0.25,0.617) (0.5,0.692) (0.75,0.759) (1,0.813) (1.5,0.891) (2,0.977) (2.5,1.05)};
\addplot[br] coordinates {(-2.95,0.0006) (-2.875,0.00112) (-2.75,0.00166) (-2.5,0.0038) (-2.25,0.0081) (-2,0.016) (-1.75,0.0288) (-1.5,0.049) (-1.25,0.079) (-1,0.123) (-0.75,0.184) (-0.5,0.266) (-0.25,0.363) (0,0.468) (0.25,0.569) (0.5,0.653) (0.75,0.724) (1,0.785) (1.25,0.83) (1.6,0.88)};
\addplot[br] coordinates {(-2.85,0.0005) (-2.8,0.0009) (-2.75,0.00112) (-2.5,0.0025) (-2.25,0.0056) (-2,0.0117) (-1.75,0.0219) (-1.5,0.038) (-1.25,0.063) (-1,0.1) (-0.75,0.151) (-0.5,0.224) (-0.25,0.316) (0,0.417) (0.25,0.525) (0.5,0.617) (0.75,0.69) (1,0.76) (1.25,0.82) (1.5,0.86)};
\addplot[br] coordinates {(-3.1,0.0009) (-3,0.0013) (-2.75,0.003) (-2.5,0.0065) (-2.25,0.013) (-2,0.025) (-1.75,0.044) (-1.5,0.07) (-1.25,0.108) (-1,0.16) (-0.75,0.235) (-0.5,0.33) (-0.25,0.43) (0,0.53) (0.5,0.7) (1,0.82) (1.5,0.9) (2.2,0.99)};
\addplot[br] coordinates {(-2.95,0.0004) (-2.9,0.0008) (-2.8,0.0015) (-2.6,0.003) (-2.4,0.005) (-2.3,0.007) (-2.1,0.012) (-1.9,0.02) (-1.7,0.03) (-1.6,0.03) (-1.45,0.045) (-1.3,0.07) (-1.1,0.1) (-0.9,0.14) (-0.6,0.22) (-0.3,0.33) (0,0.46) (0.3,0.57) (0.6,0.67) (1.0,0.78) (1.3,0.83)};
\addplot[br] coordinates {(-2.4,0.0003) (-2.35,0.0008) (-2.25,0.002) (-2.1,0.005) (-2.0,0.009) (-1.85,0.015) (-1.7,0.024) (-1.5,0.04) (-1.25,0.068) (-1,0.11) (-0.75,0.17) (-0.5,0.26) (-0.25,0.36) (0,0.47) (0.5,0.65) (1,0.79) (1.4,0.86)};
\addplot[br] coordinates {(-2.6,0.0003) (-2.55,0.0008) (-2.45,0.0018) (-2.3,0.0045) (-2.15,0.008) (-2,0.013) (-1.8,0.022) (-1.6,0.036) (-1.4,0.055) (-1.2,0.08) (-1,0.12) (-0.7,0.2) (-0.4,0.31) (-0.1,0.44) (0.2,0.57) (0.6,0.7) (1,0.8) (1.5,0.88) (2,0.95) (2.5,1.1)};
\addplot[br] coordinates {(-2.75,0.0003) (-2.7,0.0008) (-2.6,0.0016) (-2.4,0.004) (-2.2,0.009) (-2,0.017) (-1.8,0.03) (-1.5,0.055) (-1.25,0.09) (-1,0.14) (-0.75,0.21) (-0.5,0.3) (-0.25,0.41) (0,0.52) (0.25,0.62) (0.5,0.72) (0.75,0.8) (1,0.88) (1.25,0.95) (1.5,1.0) (1.75,1.06) (2,1.12) (2.25,1.18) (2.5,1.26)};
\addplot[br] coordinates {(-3.1,0.0035) (-3,0.004) (-2.85,0.005) (-2.7,0.007) (-2.5,0.01) (-2.3,0.014) (-2.1,0.02) (-1.9,0.03) (-1.7,0.045) (-1.5,0.068) (-1.3,0.095) (-1.1,0.13) (-0.9,0.17) (-0.6,0.26) (-0.3,0.37) (0,0.5) (0.3,0.62) (0.6,0.72) (1,0.82) (1.5,0.9) (2,0.96) (2.7,1.02)};
\addplot[br] coordinates {(-3.1,0.0015) (-3,0.0018) (-2.9,0.0022) (-2.7,0.0035) (-2.5,0.0065) (-2.3,0.011) (-2.1,0.018) (-1.9,0.028) (-1.7,0.043) (-1.5,0.062) (-1.25,0.095) (-1,0.145) (-0.75,0.215) (-0.5,0.31) (-0.25,0.41) (0,0.515) (0.5,0.69) (1,0.81) (1.5,0.89) (2,0.96) (3.1,1.02)};
\addplot[br] coordinates {(-3.0,0.0004) (-2.95,0.0008) (-2.85,0.0014) (-2.7,0.0025) (-2.55,0.0042) (-2.4,0.0065) (-2.2,0.011) (-2,0.019) (-1.75,0.034) (-1.5,0.058) (-1.25,0.092) (-1,0.14) (-0.75,0.21) (-0.5,0.3) (-0.25,0.4) (0,0.5) (0.5,0.68) (1,0.8) (1.3,0.85)};
\addplot[br] coordinates {(-2.7,0.0003) (-2.65,0.0008) (-2.55,0.0015) (-2.4,0.003) (-2.2,0.0065) (-2,0.012) (-1.75,0.023) (-1.5,0.04) (-1.25,0.065) (-1,0.1) (-0.75,0.15) (-0.5,0.22) (-0.25,0.3) (0,0.38) (0.25,0.46) (0.4,0.47) (0.5,0.55) (0.75,0.66) (1,0.74) (1.2,0.8)};
\addplot[br] coordinates {(-3.1,0.0026) (-3,0.003) (-2.8,0.004) (-2.6,0.006) (-2.45,0.0085) (-2.3,0.012) (-2.15,0.016) (-2,0.022) (-1.8,0.033) (-1.6,0.048) (-1.4,0.068) (-1.2,0.095) (-1,0.135) (-0.75,0.2) (-0.5,0.29) (-0.25,0.39) (0,0.5) (0.5,0.68) (1,0.8) (1.5,0.88) (2.1,0.95)};
\addplot[br] coordinates {(-3.1,0.001) (-3,0.0015) (-2.85,0.0025) (-2.7,0.0042) (-2.55,0.0068) (-2.4,0.01) (-2.25,0.014) (-2.1,0.019) (-1.9,0.025) (-1.75,0.03) (-1.6,0.042) (-1.45,0.058) (-1.25,0.085) (-1,0.13) (-0.75,0.2) (-0.5,0.29) (-0.2,0.42) (0.1,0.55) (0.5,0.69) (1,0.81) (1.6,0.9)};
\addplot[br] coordinates {(-2.55,0.0003) (-2.5,0.0008) (-2.42,0.0014) (-2.3,0.003) (-2.15,0.006) (-2,0.011) (-1.8,0.02) (-1.6,0.032) (-1.4,0.05) (-1.2,0.075) (-1,0.11) (-0.75,0.17) (-0.5,0.25) (-0.25,0.35) (0,0.45) (0.3,0.58) (0.7,0.7) (1.1,0.79)};
\addplot[br] coordinates {(-2.8,0.0003) (-2.75,0.0008) (-2.65,0.0013) (-2.5,0.0026) (-2.35,0.0045) (-2.2,0.0075) (-2.05,0.012) (-1.85,0.021) (-1.65,0.033) (-1.45,0.05) (-1.25,0.075) (-1.05,0.11) (-0.8,0.17) (-0.55,0.26) (-0.3,0.36) (0,0.48) (0.4,0.64) (0.8,0.75) (1.2,0.83) (1.8,0.91)};
\addplot[br] coordinates {(-3.1,0.0044) (-3,0.0045) (-2.9,0.0048) (-2.75,0.005) (-2.6,0.0065) (-2.45,0.009) (-2.3,0.012) (-2.1,0.017) (-1.9,0.025) (-1.7,0.035) (-1.5,0.05) (-1.3,0.072) (-1.1,0.1) (-0.9,0.14) (-0.6,0.23) (-0.3,0.35) (0,0.48) (0.5,0.67) (1,0.8) (1.6,0.9) (2.3,0.97)};
\addplot[br] coordinates {(-2.35,0.0003) (-2.3,0.0008) (-2.22,0.0015) (-2.1,0.0035) (-1.95,0.008) (-1.8,0.014) (-1.6,0.025) (-1.4,0.042) (-1.2,0.068) (-1,0.105) (-0.8,0.15) (-0.55,0.23) (-0.3,0.33) (0,0.46) (0.35,0.6) (0.8,0.73) (1.3,0.82)};
\addplot[br] coordinates {(-3.1,0.0016) (-3,0.002) (-2.9,0.0028) (-2.8,0.0033) (-2.65,0.0048) (-2.5,0.007) (-2.35,0.0095) (-2.2,0.013) (-2,0.02) (-1.8,0.032) (-1.55,0.052) (-1.3,0.082) (-1.05,0.125) (-0.8,0.19) (-0.5,0.3) (-0.2,0.42) (0.2,0.57) (0.6,0.7) (1,0.8) (1.5,0.88) (2,0.94) (3.1,0.98)};
\addplot[br] coordinates {(-3.1,0.0007) (-3,0.001) (-2.9,0.0016) (-2.75,0.0028) (-2.6,0.0045) (-2.45,0.007) (-2.3,0.0105) (-2.1,0.016) (-1.9,0.024) (-1.7,0.036) (-1.5,0.054) (-1.3,0.08) (-1.1,0.115) (-0.85,0.17) (-0.6,0.25) (-0.3,0.36) (0,0.5) (0.4,0.65) (0.9,0.78) (1.4,0.86) (2,0.93) (2.6,0.99) (3.1,1.0)};
\addplot[br] coordinates {(-2.65,0.0003) (-2.6,0.0008) (-2.5,0.0016) (-2.35,0.0035) (-2.2,0.006) (-2.05,0.009) (-1.9,0.012) (-1.75,0.018) (-1.6,0.028) (-1.5,0.03) (-1.45,0.03) (-1.35,0.045) (-1.2,0.065) (-1,0.1) (-0.75,0.16) (-0.5,0.24) (-0.25,0.34) (0,0.45) (0.4,0.6) (0.8,0.72) (1.2,0.81)};
% colored
\addplot[krgreen, line width=0.78pt, line join=round, forget plot] coordinates {(-3.1,0.0028) (-2.8,0.0029) (-2.5,0.003) (-2.21,0.0031) (-2.13,0.006) (-2.06,0.0107) (-1.96,0.02) (-1.86,0.034) (-1.70,0.048) (-1.55,0.065) (-1.38,0.087) (-1.22,0.1) (-1.07,0.123) (-0.8,0.2) (-0.52,0.34) (-0.25,0.45) (0.035,0.55) (0.3,0.64) (0.6,0.72) (0.9,0.79) (1.14,0.82) (1.5,0.85) (2.0,0.88) (2.5,0.91) (3.1,0.93)};
\addplot[itblue, line width=0.78pt, line join=round, forget plot] coordinates {(-3.096,0.00039) (-3.0,0.00097) (-2.904,0.00143) (-2.809,0.00201) (-2.713,0.00283) (-2.617,0.0041) (-2.521,0.00555) (-2.425,0.00705) (-2.329,0.0106) (-2.233,0.0127) (-2.137,0.0156) (-2.041,0.0193) (-1.945,0.0241) (-1.85,0.029) (-1.754,0.0368) (-1.658,0.0461) (-1.562,0.0573) (-1.466,0.0634) (-1.37,0.0779) (-1.274,0.0779) (-1.178,0.11) (-1.082,0.132) (-0.986,0.155) (-0.891,0.175) (-0.795,0.197) (-0.699,0.223) (-0.603,0.256) (-0.507,0.294) (-0.411,0.335) (-0.219,0.4) (-0.027,0.465) (0.164,0.54) (0.356,0.61) (0.548,0.661) (0.74,0.72) (0.932,0.779) (1.123,0.828) (1.315,0.871) (1.507,0.922) (1.699,0.977) (1.89,1.016)};
\addplot[dkred, line width=0.78pt, line join=round, forget plot] coordinates {(-2.728,0.00065) (-2.696,0.0019) (-2.665,0.0032) (-2.633,0.0045) (-2.602,0.0058) (-2.57,0.006) (-2.507,0.0066) (-2.444,0.0077) (-2.381,0.0091) (-2.318,0.0101) (-2.255,0.0115) (-2.191,0.0138) (-2.128,0.016) (-2.065,0.0196) (-2.002,0.0225) (-1.939,0.0275) (-1.876,0.032) (-1.813,0.038) (-1.75,0.042) (-1.688,0.046) (-1.625,0.048) (-1.56,0.05)};
\addplot[only marks, mark=*, mark size=1.9pt, color=itblue, forget plot] coordinates {(1.89,1.016)};
\addplot[only marks, mark=*, mark size=1.9pt, color=dkred, forget plot] coordinates {(-1.56,0.05)};
\addlegendimage{itblue}
\addlegendentry{\vphantom{lg}Italy}
\addlegendimage{krgreen}
\addlegendentry{\vphantom{lg}Korea, South}
\addlegendimage{dkred}
\addlegendentry{\vphantom{lg}Denmark}
\addlegendimage{black}
\addlegendentry{\vphantom{lg}> 5000 cases}
\addlegendimage{lgray}
\addlegendentry{\vphantom{lg}< 5000 cases}
\end{axis}
\end{tikzpicture}
\end{document}
